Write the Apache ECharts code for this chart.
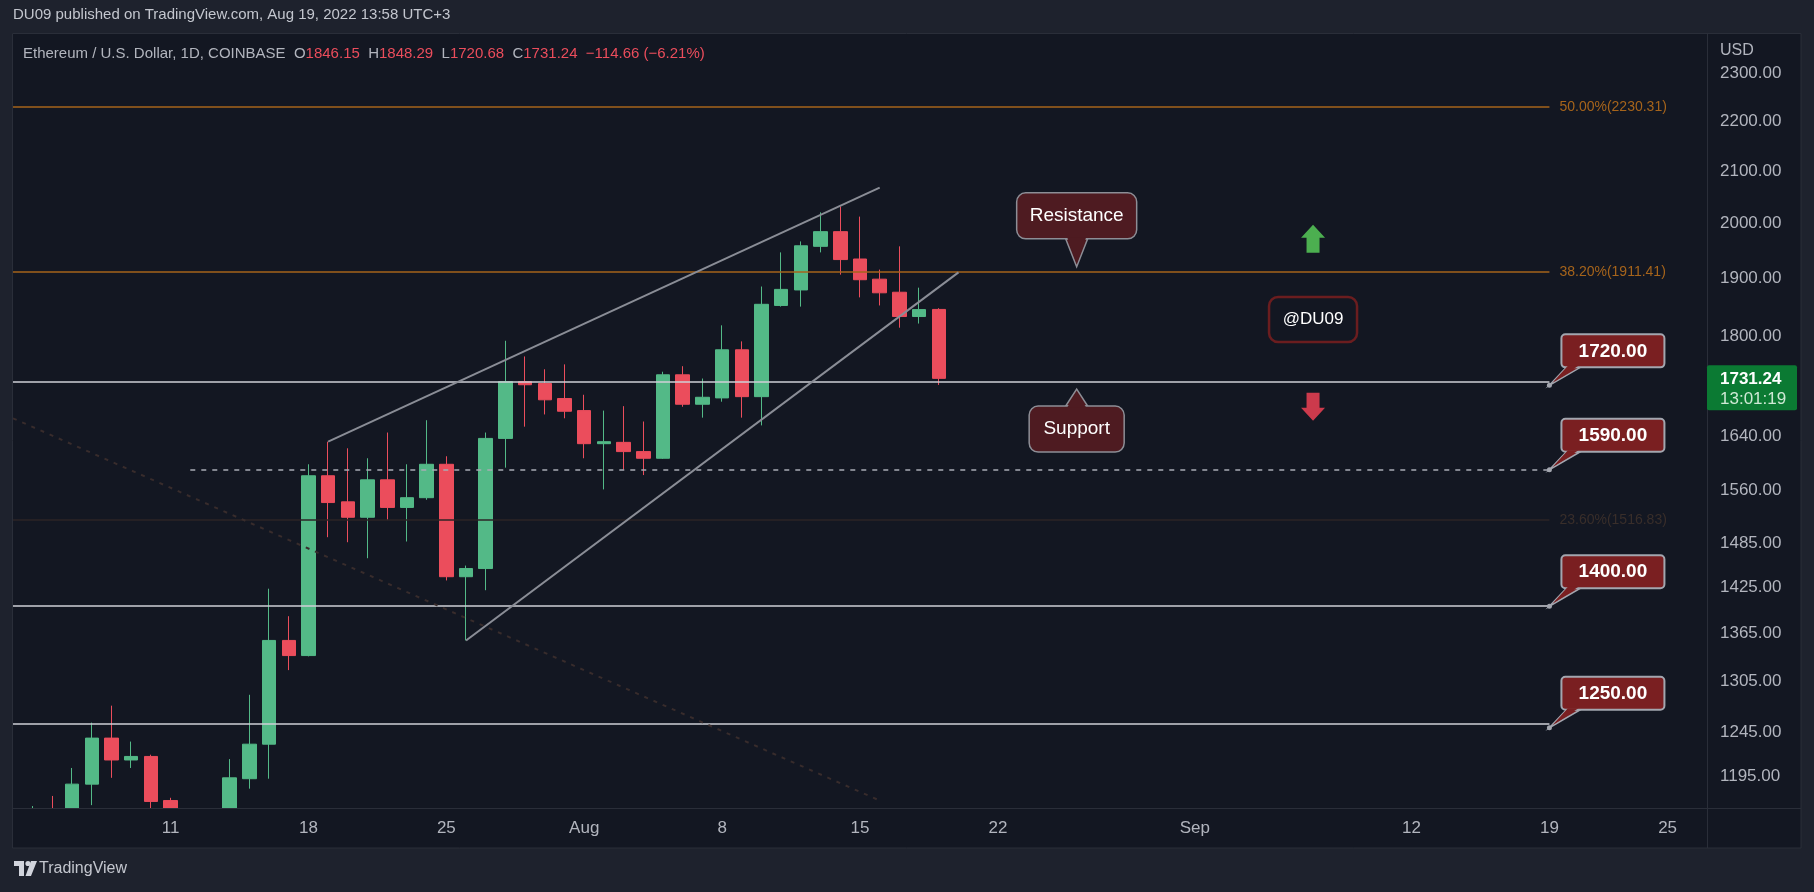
<!DOCTYPE html>
<html>
<head>
<meta charset="utf-8">
<title>Ethereum / U.S. Dollar, 1D</title>
<script src="https://cdn.jsdelivr.net/npm/echarts@6/dist/echarts.min.js"></script>
<style>
  html, body { margin: 0; padding: 0; background: #1e222d; }
  #chart { width: 1814px; height: 892px; }
</style>
</head>
<body>
<div id="chart"></div>
<script>
var FONT = '"Liberation Sans", Arial, sans-serif';
var TXT = '#b2b5be';
var UP = '#53b987';
var DOWN = '#eb4d5c';

// daily candles, 2022-07-03 .. 2022-08-19 (log price scale)
var candleOpen  = [1066, 1075, 1150, 1134, 1186, 1238, 1213, 1217, 1168, 1097, 1038, 1112, 1192, 1231, 1356, 1337,
                   1581, 1543, 1521, 1575, 1535, 1549, 1598, 1439, 1450, 1637, 1726, 1723, 1699,
                   1680, 1629, 1631, 1617, 1607, 1737, 1690, 1700, 1778, 1702, 1853, 1880, 1958, 1985, 1935, 1899, 1876, 1834, 1846.15];
var candleClose = [1073, 1150, 1134, 1186, 1238, 1213, 1217, 1167, 1097, 1038, 1112, 1193, 1231, 1356, 1337, 1581,
                   1542, 1521, 1575, 1535, 1549, 1598, 1439, 1450, 1637, 1726, 1721, 1697, 1679,
                   1629, 1632, 1617, 1607, 1737, 1690, 1701, 1778, 1702, 1855, 1881, 1959, 1985, 1934, 1898, 1875, 1834, 1845.90, 1731.24];
var candleLow   = [1036, 1070, 1100, 1122, 1163, 1193, 1204, 1150, 1090, 1035, 1006, 1075, 1181, 1192, 1319, 1336,
                   1493, 1486, 1464, 1517, 1487, 1546, 1434, 1356, 1421, 1593, 1655, 1674, 1668,
                   1607, 1561, 1590, 1582, 1606, 1686, 1669, 1694, 1669, 1657, 1851, 1851, 1947, 1907, 1867, 1853, 1815, 1822, 1720.68];
var candleHigh  = [1080, 1162, 1173, 1204, 1256, 1276, 1234, 1219, 1171, 1100, 1113, 1214, 1289, 1423, 1387, 1598,
                   1632, 1622, 1607, 1646, 1598, 1665, 1610, 1454, 1646, 1793, 1767, 1746, 1754,
                   1705, 1680, 1687, 1663, 1742, 1751, 1731, 1819, 1792, 1886, 1947, 1967, 2021, 2032, 2013, 1916, 1958, 1884, 1848.29];

// axis ticks
var priceTicks = [2300, 2200, 2100, 2000, 1900, 1800, 1640, 1560, 1485, 1425, 1365, 1305, 1245, 1195];
var dateTicks = ['2022-07-11', '2022-07-18', '2022-07-25', '2022-08-01', '2022-08-08', '2022-08-15',
                 '2022-08-22', '2022-09-01', '2022-09-12', '2022-09-19', '2022-09-25'];
var dateTickLabels = ['11', '18', '25', 'Aug', '8', '15', '22', 'Sep', '12', '19', '25'];

// fibonacci levels
var fibLevels = [2230.31, 1911.41, 1516.83];
var fibNames = ['50.00%', '38.20%', '23.60%'];
var fibLineColors = ['#a6641b', '#a6641b', '#2c2526'];
var fibTextColors = ['#a6641b', '#a6641b', '#392e2a'];

// horizontal levels and their callouts
var levelLines  = [1726, 1590, 1400, 1255];
var levelStarts = ['2022-07-03', '2022-07-12', '2022-07-03', '2022-07-03'];
var levelAnchor = [1720, 1590, 1400, 1250];
var levelLabels = ['1720.00', '1590.00', '1400.00', '1250.00'];
var lineEnd = '2022-09-19';

// drawn trend lines
var wedgeUpper = [['2022-07-19', 1632], ['2022-08-16', 2068]];
var wedgeLower = [['2022-07-26', 1356], ['2022-08-20', 1911]];
var fanLine    = [['2022-07-03', 1668], ['2022-08-16', 1168]];

// category days Jul 3 .. Sep 27
var days = [];
var t0 = Date.UTC(2022, 6, 3);
for (var i = 0; i < 87; i++) {
  days.push(new Date(t0 + i * 86400000).toISOString().slice(0, 10));
}
var tickMap = {};
dateTicks.forEach(function (d, i) { tickMap[d] = dateTickLabels[i]; });

var candleData = candleOpen.map(function (o, i) {
  return [o, candleClose[i], candleLow[i], candleHigh[i]];
});

var marks = [];
fibLevels.forEach(function (v, i) {
  marks.push([
    { coord: [days[0], v], lineStyle: { color: fibLineColors[i], width: 1.5, type: 'solid' },
      label: { show: true, position: 'end', distance: 10, formatter: fibNames[i] + '(' + v.toFixed(2) + ')',
               color: fibTextColors[i], fontSize: 14, fontFamily: FONT } },
    { coord: [lineEnd, v] }
  ]);
});
levelLines.forEach(function (v, i) {
  marks.push([
    { coord: [levelStarts[i], v], label: { show: false },
      lineStyle: { color: i === 1 ? '#a9acb5' : '#cfd1d7', width: 1.6, type: i === 1 ? [5, 6] : 'solid' } },
    { coord: [lineEnd, v] }
  ]);
});
[wedgeUpper, wedgeLower].forEach(function (l) {
  marks.push([
    { coord: l[0], label: { show: false }, lineStyle: { color: '#8a8d96', width: 2, type: 'solid' } },
    { coord: l[1] }
  ]);
});
marks.push([
  { coord: fanLine[0], label: { show: false }, lineStyle: { color: '#382c2c', width: 2, type: [4, 6] } },
  { coord: fanLine[1] }
]);

var chart = echarts.init(document.getElementById('chart'));

var option = {
  backgroundColor: '#131722',
  animation: false,
  grid: { left: 13, right: 107, top: 34, bottom: 84 },
  xAxis: {
    type: 'category',
    data: days,
    boundaryGap: false,
    z: 10,
    axisLine: { show: false },
    axisTick: { show: false },
    splitLine: { show: false },
    axisLabel: {
      interval: function (idx, val) { return tickMap.hasOwnProperty(val); },
      formatter: function (val) { return tickMap[val] || ''; },
      color: TXT, fontSize: 17, fontFamily: FONT, margin: 12
    }
  },
  yAxis: {
    type: 'log',
    logBase: 10,
    min: 1159.9,
    max: 2386.6,
    position: 'right',
    z: 10,
    axisLine: { show: false },
    axisTick: { show: false },
    splitLine: { show: false },
    axisLabel: {
      customValues: priceTicks,
      formatter: function (v) { return Number(v).toFixed(2); },
      color: TXT, fontSize: 17, fontFamily: FONT, margin: 13
    }
  },
  series: [{
    type: 'candlestick',
    data: candleData,
    barWidth: 14,
    clip: true,
    itemStyle: { color: UP, color0: DOWN, borderColor: UP, borderColor0: DOWN, borderWidth: 1 },
    markLine: {
      silent: true,
      symbol: ['none', 'none'],
      animation: false,
      data: marks
    }
  }]
};
chart.setOption(option);

function px(date, price) {
  return chart.convertToPixel({ gridIndex: 0 }, [date, price]);
}

var g = [];
// time-axis strip hides candle parts below the price range
g.push({ type: 'rect', shape: { x: 0, y: 808.5, width: 1707, height: 40 }, style: { fill: '#131722' }, z: 5 });
// outer frame around the chart pane
g.push({ type: 'rect', shape: { x: 0, y: 0, width: 1814, height: 33 }, style: { fill: '#1e222d' }, z: 6 });
g.push({ type: 'rect', shape: { x: 0, y: 848, width: 1814, height: 44 }, style: { fill: '#1e222d' }, z: 6 });
g.push({ type: 'rect', shape: { x: 0, y: 0, width: 12, height: 892 }, style: { fill: '#1e222d' }, z: 6 });
g.push({ type: 'rect', shape: { x: 1801, y: 0, width: 13, height: 892 }, style: { fill: '#1e222d' }, z: 6 });
g.push({ type: 'rect', shape: { x: 12.5, y: 33.5, width: 1788.5, height: 814.5 }, style: { fill: null, stroke: '#2a2e39', lineWidth: 1 }, z: 6 });
g.push({ type: 'line', shape: { x1: 13, y1: 808.5, x2: 1801, y2: 808.5 }, style: { stroke: '#2a2e39', lineWidth: 1 }, z: 6 });
g.push({ type: 'line', shape: { x1: 1707.5, y1: 34, x2: 1707.5, y2: 848 }, style: { stroke: '#2a2e39', lineWidth: 1 }, z: 6 });

// header texts
g.push({ type: 'text', x: 13, y: 15, z: 7,
  style: { text: 'DU09 published on TradingView.com, Aug 19, 2022 13:58 UTC+3', fill: '#c3c6ce', font: '15px ' + FONT, verticalAlign: 'middle' } });
var n = candleOpen.length - 1;
var chg = candleClose[n] - candleClose[n - 1];
var pct = chg / candleClose[n - 1] * 100;
g.push({ type: 'text', x: 23, y: 54, z: 7,
  style: {
    text: '{t|Ethereum / U.S. Dollar, 1D, COINBASE}  {t|O}{r|' + candleOpen[n].toFixed(2) + '}  {t|H}{r|' + candleHigh[n].toFixed(2) +
          '}  {t|L}{r|' + candleLow[n].toFixed(2) + '}  {t|C}{r|' + candleClose[n].toFixed(2) + '}  {r|\u2212' + Math.abs(chg).toFixed(2) +
          ' (\u2212' + Math.abs(pct).toFixed(2) + '%)}',
    verticalAlign: 'middle', fill: TXT, fontSize: 15, fontFamily: FONT,
    rich: { t: { fill: TXT, fontSize: 15, fontFamily: FONT }, r: { fill: DOWN, fontSize: 15, fontFamily: FONT } }
  } });
g.push({ type: 'text', x: 1720, y: 51, z: 7, style: { text: 'USD', fill: TXT, font: '16px ' + FONT, verticalAlign: 'middle' } });

// level callouts
var boxFill = '#7a1f21', boxLine = '#a3a6af';
levelAnchor.forEach(function (p, i) {
  var pt = px(lineEnd, p);
  var bx = pt[0] + 12, by = pt[1] - 18 - 33;
  g.push({ type: 'polygon', z: 20, shape: { points: [[bx + 5, by + 33], [bx + 19, by + 33], [pt[0], pt[1]]] },
    style: { fill: boxFill, stroke: boxLine, lineWidth: 1.5 } });
  g.push({ type: 'rect', z: 21, shape: { x: bx, y: by, width: 103, height: 33, r: 4 },
    style: { fill: boxFill, stroke: boxLine, lineWidth: 2 } });
  g.push({ type: 'polygon', z: 22, shape: { points: [[bx + 6.5, by + 31.5], [bx + 17, by + 31.5], [pt[0] + 3, pt[1] - 2.5]] },
    style: { fill: boxFill } });
  g.push({ type: 'circle', z: 23, shape: { cx: pt[0], cy: pt[1], r: 2.5 }, style: { fill: boxLine } });
  g.push({ type: 'text', z: 23, x: bx + 51.5, y: by + 17,
    style: { text: levelLabels[i], fill: '#ffffff', font: 'bold 19px ' + FONT, align: 'center', verticalAlign: 'middle' } });
});

// Resistance / Support balloons
var noteFill = '#4e1b21', noteLine = '#8d8e96';
function balloon(date, price, text, w, down) {
  var a = px(date, price);
  var h = 46, gap = 28;
  var x = a[0] - w / 2;
  var y = down ? a[1] - gap - h : a[1] + gap - 11;
  var baseY = down ? y + h : y;
  g.push({ type: 'polygon', z: 20, shape: { points: [[a[0] - 11, baseY], [a[0] + 11, baseY], [a[0], a[1]]] },
    style: { fill: noteFill, stroke: noteLine, lineWidth: 1.5 } });
  g.push({ type: 'rect', z: 21, shape: { x: x, y: y, width: w, height: h, r: 9 },
    style: { fill: noteFill, stroke: noteLine, lineWidth: 1.5 } });
  g.push({ type: 'polygon', z: 22, shape: { points: down
      ? [[a[0] - 9.5, baseY - 1.5], [a[0] + 9.5, baseY - 1.5], [a[0], a[1] - 3]]
      : [[a[0] - 9.5, baseY + 1.5], [a[0] + 9.5, baseY + 1.5], [a[0], a[1] + 3]] },
    style: { fill: noteFill } });
  g.push({ type: 'text', z: 23, x: a[0], y: y + h / 2,
    style: { text: text, fill: '#ffffff', font: '19px ' + FONT, align: 'center', verticalAlign: 'middle' } });
}
balloon('2022-08-26', 1921, 'Resistance', 120, true);
balloon('2022-08-26', 1714, 'Support', 95, false);

// author tag
var tag = px('2022-09-07', 1829);
g.push({ type: 'rect', z: 21, shape: { x: tag[0] - 44, y: tag[1] - 22.5, width: 88, height: 45, r: 9 },
  style: { fill: '#131722', stroke: '#6b1d1f', lineWidth: 2.5 } });
g.push({ type: 'text', z: 22, x: tag[0], y: tag[1],
  style: { text: '@DU09', fill: '#ffffff', font: '17px ' + FONT, align: 'center', verticalAlign: 'middle' } });

// arrows
var up = px('2022-09-07', 1972);
g.push({ type: 'polygon', z: 21, shape: { points: [
  [up[0], up[1] - 14], [up[0] + 12, up[1] - 1], [up[0] + 6.5, up[1] - 1], [up[0] + 6.5, up[1] + 14],
  [up[0] - 6.5, up[1] + 14], [up[0] - 6.5, up[1] - 1], [up[0] - 12, up[1] - 1]] }, style: { fill: '#4caf50' } });
var dn = px('2022-09-07', 1686);
g.push({ type: 'polygon', z: 21, shape: { points: [
  [dn[0], dn[1] + 14], [dn[0] + 12, dn[1] + 1], [dn[0] + 6.5, dn[1] + 1], [dn[0] + 6.5, dn[1] - 14],
  [dn[0] - 6.5, dn[1] - 14], [dn[0] - 6.5, dn[1] + 1], [dn[0] - 12, dn[1] + 1]] }, style: { fill: '#cc3a4c' } });

// last price tag
var lp = px(lineEnd, candleClose[n]);
g.push({ type: 'rect', z: 21, shape: { x: 1707, y: lp[1] - 13, width: 90, height: 45, r: 2 }, style: { fill: '#0b7a33' } });
g.push({ type: 'text', z: 22, x: 1720, y: lp[1] + 1,
  style: { text: candleClose[n].toFixed(2), fill: '#ffffff', font: 'bold 17px ' + FONT, verticalAlign: 'middle' } });
g.push({ type: 'text', z: 22, x: 1720, y: lp[1] + 21,
  style: { text: '13:01:19', fill: '#cfe9d5', font: '17px ' + FONT, verticalAlign: 'middle' } });

// TradingView mark
g.push({ type: 'rect', z: 7, shape: { x: 14, y: 861, width: 10, height: 5 }, style: { fill: '#d1d4dc' } });
g.push({ type: 'rect', z: 7, shape: { x: 19, y: 861, width: 5, height: 15 }, style: { fill: '#d1d4dc' } });
g.push({ type: 'circle', z: 7, shape: { cx: 28, cy: 863.5, r: 2.6 }, style: { fill: '#d1d4dc' } });
g.push({ type: 'polygon', z: 7, shape: { points: [[31, 861], [37, 861], [31, 876], [25.5, 876]] }, style: { fill: '#d1d4dc' } });
g.push({ type: 'text', z: 7, x: 39, y: 869,
  style: { text: 'TradingView', fill: '#c3c6ce', font: '16px ' + FONT, verticalAlign: 'middle' } });

chart.setOption({ graphic: { elements: g } });
</script>
</body>
</html>
